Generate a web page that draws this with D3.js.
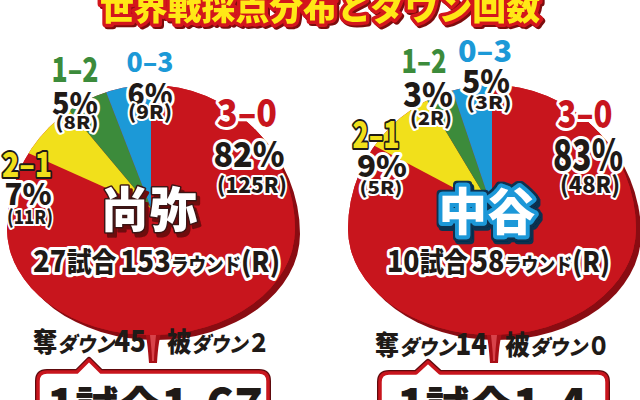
<!DOCTYPE html>
<html><head><meta charset="utf-8">
<script src="https://cdn.jsdelivr.net/npm/d3@7"></script>
<style>html,body{margin:0;padding:0;background:#fff;overflow:hidden}</style>
</head><body><svg id="c" width="640" height="400"></svg>
<script>
// ---------- data ----------
const title = "世界戦採点分布とダウン回数";
const categories = ["3–0", "2–1", "1–2", "0–3"];
const fighters = ["尚弥", "中谷"];
const naoyaRounds = [125, 11, 8, 9];
const nakataniRounds = [48, 5, 2, 3];
const naoyaPct = [82, 7, 5, 6];
const nakataniPct = [83, 9, 3, 5];
const bouts = [27, 10];
const totalRounds = [153, 58];
const downsScored = [45, 14];
const downsReceived = [2, 0];
const downsPerBout = ["1.67", "1.4"];

const roundsBy = [naoyaRounds, nakataniRounds];
const pctBy = [naoyaPct, nakataniPct];

// ---------- style / layout ----------
const sliceColors = ["#c8151d", "#f1e01b", "#3c8b3b", "#1c99d7"];
const catFill = ["#c8151d", "#f1e01b", "#3c8b3b", "#1c99d7"];
const FONT = "'Noto Sans CJK JP','Noto Sans',sans-serif";
const INK = "#1f1a17";

const layout = [
  { cx: 151, cy: 229, apexY: 208, r: 144, ryB: 106,
    labels: [
      { cx: 247, cy: 127, cs: 37, cw: 60, px: 249, py: 167, ps: 35, pw: 71, rx: 252, ry: 193, rs: 21, rw: 70 },
      { cx: 27, cy: 177, cs: 34, cw: 50, px: 28, py: 205, ps: 30, pw: 47, rx: 30, ry: 224, rs: 19, rw: 46 },
      { cx: 75, cy: 82, cs: 34, cw: 47, px: 75, py: 115, ps: 31, pw: 46, rx: 77, ry: 129, rs: 17, rw: 43 },
      { cx: 150, cy: 72, cs: 26, cw: 47, px: 150, py: 105, ps: 30, pw: 45, rx: 150, ry: 119, rs: 19, rw: 44 }
    ],
    nameX: 149, nameY: 227, nameS: 48, nameW: 97, nameStyle: "red",
    statX0: 33, statX1: 280, statY: 272,
    downA: [33, 146], downB: [167, 270], downY: 352,
    box: { x0: 38, x1: 268, y: 372, px: 89, py: 360 },
    boxT: { x0: 47, x1: 263, y: 424 }
  },
  { cx: 492, cy: 229, apexY: 208, r: 144, ryB: 106,
    labels: [
      { cx: 585, cy: 128, cs: 38, cw: 55, px: 588, py: 170, ps: 41, pw: 70, rx: 590, ry: 193, rs: 23, rw: 60 },
      { cx: 376, cy: 148, cs: 36, cw: 47, px: 382, py: 177, ps: 30, pw: 50, rx: 381, ry: 194, rs: 17, rw: 43 },
      { cx: 424, cy: 73, cs: 32, cw: 45, px: 428, py: 107, ps: 34, pw: 50, rx: 431, ry: 125, rs: 18, rw: 42 },
      { cx: 485, cy: 62, cs: 30, cw: 54, px: 486, py: 93, ps: 32, pw: 48, rx: 489, ry: 109, rs: 17, rw: 45 }
    ],
    nameX: 487, nameY: 230, nameS: 50, nameW: 97, nameStyle: "blue",
    statX0: 387, statX1: 610, statY: 272,
    downA: [375, 487], downB: [505, 610], downY: 355,
    box: { x0: 380, x1: 607, y: 373, px: 428, py: 362 },
    boxT: { x0: 397, x1: 587, y: 424 }
  }
];

function fullWidth(n) {
  return String(n).replace(/[0-9]/g, d => String.fromCharCode(d.charCodeAt(0) + 0xFEE0));
}

const svg = d3.select("#c");
svg.append("rect").attr("width", 640).attr("height", 400).attr("fill", "#fff");

// ---------- filters ----------
const defs = svg.append("defs");
function shadowFilter(id, color, dx, dy, dil) {
  const f = defs.append("filter").attr("id", id)
    .attr("x", "-20%").attr("y", "-30%").attr("width", "150%").attr("height", "170%");
  let src = "SourceAlpha";
  if (dil) {
    f.append("feMorphology").attr("in", "SourceAlpha").attr("operator", "dilate").attr("radius", dil).attr("result", "dil");
    src = "dil";
  }
  f.append("feFlood").attr("flood-color", color).attr("result", "col");
  f.append("feComposite").attr("in", "col").attr("in2", src).attr("operator", "in").attr("result", "out");
  f.append("feOffset").attr("in", "out").attr("dx", dx).attr("dy", dy).attr("result", "sh");
  const m = f.append("feMerge");
  m.append("feMergeNode").attr("in", "sh");
  if (dil) m.append("feMergeNode").attr("in", "out");
  m.append("feMergeNode").attr("in", "SourceGraphic");
}
shadowFilter("titleSh", "#7d0b10", 2, 2, 0);
shadowFilter("redSh", "#6e090d", 3, 4, 0);
shadowFilter("blueSh", "#0f3050", 2, 3, 1.6);

function outlinedText(g, x, y, str, o) {
  const t = g.append("text")
    .attr("x", x).attr("y", y)
    .attr("text-anchor", o.anchor || "middle")
    .attr("font-family", FONT)
    .attr("font-weight", 900)
    .attr("font-size", o.size)
    .attr("fill", o.fill)
    .style("paint-order", "stroke")
    .attr("stroke-linejoin", "round")
    .text(str);
  if (o.stroke) t.attr("stroke", o.stroke).attr("stroke-width", o.sw || 5);
  if (o.len) t.attr("textLength", o.len).attr("lengthAdjust", "spacingAndGlyphs");
  if (o.filter) t.attr("filter", `url(#${o.filter})`);
  return t;
}

function richText(g, x, y, parts, o) {
  const t = g.append("text")
    .attr("x", x).attr("y", y)
    .attr("font-family", FONT)
    .attr("font-weight", 900)
    .attr("fill", o.fill)
    .style("paint-order", "stroke")
    .attr("stroke-linejoin", "round")
    .attr("textLength", o.len).attr("lengthAdjust", "spacingAndGlyphs");
  if (o.stroke) t.attr("stroke", o.stroke).attr("stroke-width", o.sw);
  parts.forEach(p => {
    const s = t.append("tspan").attr("font-size", p.s).text(p.t);
    if (p.it) s.attr("font-style", "italic");
  });
  return t;
}

// ---------- title ----------
outlinedText(svg, 100, 20, title, { size: 34, fill: "#ffe812", stroke: "#d3131c", sw: 7, anchor: "start", len: 440, filter: "titleSh" });

// ---------- pies ----------
const pie = d3.pie().sort(null).value(d => d);
const arc = d3.arc().innerRadius(0).outerRadius(220);

layout.forEach((L, i) => {
  const g = svg.append("g");
  const diskPath = (dx, dy) => {
    const cx = L.cx + dx, cy = L.cy + dy;
    return `M${cx - L.r},${cy} A${L.r},${L.r} 0 0 1 ${cx + L.r},${cy} A${L.r},${L.ryB} 0 0 1 ${cx - L.r},${cy} Z`;
  };
  // 3D rim
  g.append("path").attr("d", diskPath(5, 5)).attr("fill", "#8a0c12");
  // drip
  const by = L.cy + L.ryB;
  g.append("path")
    .attr("d", `M${L.cx - 9},${by - 14} C${L.cx - 4},${by} ${L.cx - 3},${by + 14} ${L.cx - 2},${by + 28} L${L.cx + 6},${by + 28} C${L.cx + 7},${by + 14} ${L.cx + 8},${by} ${L.cx + 14},${by - 14} Z`)
    .attr("fill", "#a80f16");
  g.append("path")
    .attr("d", `M${L.cx - 1},${by} C${L.cx},${by + 10} ${L.cx + 1},${by + 18} ${L.cx + 1},${by + 26} L${L.cx + 3},${by + 26} C${L.cx + 3},${by + 18} ${L.cx + 4},${by + 10} ${L.cx + 5},${by} Z`)
    .attr("fill", "#d8434a");
  const clipId = "disk" + i;
  g.append("clipPath").attr("id", clipId).append("path").attr("d", diskPath(0, 0));
  g.append("path").attr("d", diskPath(0, 0)).attr("fill", sliceColors[0]);
  g.append("g")
    .attr("clip-path", `url(#${clipId})`)
    .append("g")
    .attr("transform", `translate(${L.cx},${L.apexY})`)
    .selectAll("path")
    .data(pie(roundsBy[i]))
    .join("path")
    .attr("d", arc)
    .attr("fill", (d, j) => sliceColors[j]);

  // slice labels
  categories.forEach((c, j) => {
    const lb = L.labels[j];
    if (j === 1) {
      outlinedText(g, lb.cx, lb.cy, c, { size: lb.cs, fill: catFill[j], stroke: INK, sw: 4, len: lb.cw });
    } else {
      outlinedText(g, lb.cx, lb.cy, c, { size: lb.cs, fill: catFill[j], stroke: "#fff", sw: 6, len: lb.cw });
    }
    outlinedText(g, lb.px, lb.py, pctBy[i][j] + "%", { size: lb.ps, fill: INK, stroke: "#fff", sw: 6, len: lb.pw });
    outlinedText(g, lb.rx, lb.ry, "(" + roundsBy[i][j] + "R)", { size: lb.rs, fill: INK, stroke: "#fff", sw: 4, len: lb.rw });
  });

  // fighter name
  if (L.nameStyle === "red") {
    outlinedText(g, L.nameX, L.nameY, fighters[i], { size: L.nameS, fill: "#fff", stroke: "#3a1414", sw: 3, len: L.nameW, filter: "redSh" });
  } else {
    outlinedText(g, L.nameX, L.nameY, fighters[i], { size: L.nameS, fill: "#fff", stroke: "#1f98d8", sw: 8, len: L.nameW, filter: "blueSh" });
  }

  // stats line
  richText(g, L.statX0, L.statY, [
    { t: bouts[i], s: 30 }, { t: "試合", s: 27 }, { t: " ", s: 18 },
    { t: totalRounds[i], s: 30 }, { t: "ラウンド", s: 19 }, { t: "(R)", s: 28 }
  ], { fill: INK, stroke: "#fff", sw: 6, len: L.statX1 - L.statX0 });

  // downs line
  richText(g, L.downA[0], L.downY, [
    { t: "奪", s: 27 }, { t: "ダウン", s: 21, it: true }, { t: downsScored[i], s: 29 }
  ], { fill: INK, len: L.downA[1] - L.downA[0] });
  richText(g, L.downB[0], L.downY, [
    { t: "被", s: 27 }, { t: "ダウン", s: 21, it: true }, { t: fullWidth(downsReceived[i]), s: 25 }
  ], { fill: INK, len: L.downB[1] - L.downB[0] });

  // speech bubble
  const b = L.box, rr = 9, hw = 12, bottom = 430;
  const bub = `M${b.x0 + rr},${b.y} L${b.px - hw},${b.y} L${b.px},${b.py} L${b.px + hw},${b.y} L${b.x1 - rr},${b.y} Q${b.x1},${b.y} ${b.x1},${b.y + rr} L${b.x1},${bottom} L${b.x0},${bottom} L${b.x0},${b.y + rr} Q${b.x0},${b.y} ${b.x0 + rr},${b.y} Z`;
  g.append("path").attr("d", bub).attr("fill", "#fff").attr("stroke", "#5e0a0d").attr("stroke-width", 6).attr("stroke-linejoin", "round");
  g.append("path").attr("d", bub).attr("fill", "#fff").attr("stroke", "#c8151d").attr("stroke-width", 3.5).attr("stroke-linejoin", "round");
  richText(g, L.boxT.x0, L.boxT.y, [
    { t: "1", s: 48 }, { t: "試合", s: 44 }, { t: downsPerBout[i], s: 48 }
  ], { fill: INK, len: L.boxT.x1 - L.boxT.x0 });
});
</script>
</body></html>
